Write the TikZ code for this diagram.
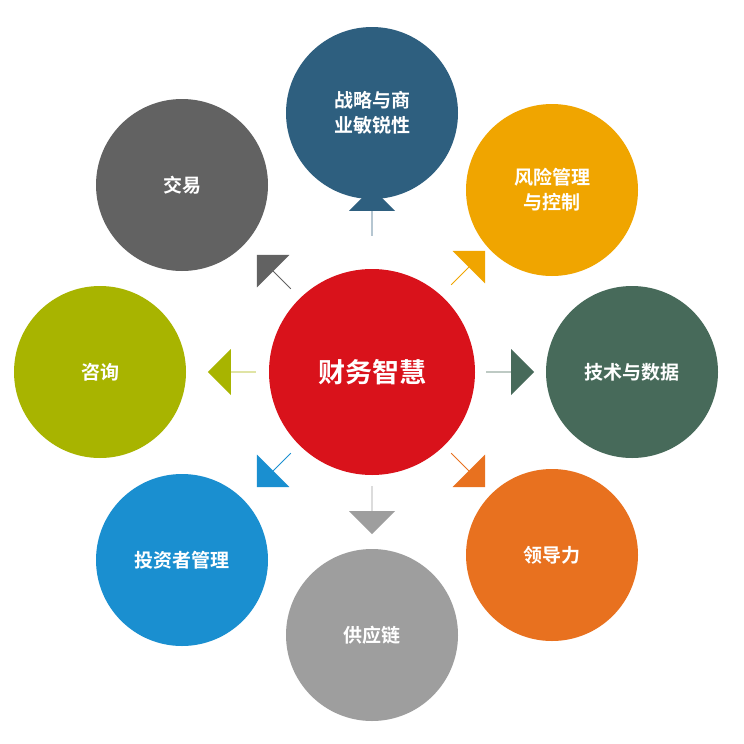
\documentclass[tikz,border=0pt]{standalone}
\usepackage{fontspec}
\newfontfamily\cjk{Noto Sans CJK SC}[BoldFont={Noto Sans CJK SC Bold}]
\usetikzlibrary{shapes.arrows}
\definecolor{cRed}{HTML}{D9121B}
\definecolor{cBlue}{HTML}{2E5F7F}
\definecolor{cAmber}{HTML}{F0A500}
\definecolor{cGreen}{HTML}{476A5A}
\definecolor{cOrange}{HTML}{E8711F}
\definecolor{cGrey}{HTML}{9E9E9E}
\definecolor{cSky}{HTML}{1A8FD0}
\definecolor{cLime}{HTML}{A8B400}
\definecolor{cDark}{HTML}{626262}
\tikzset{
  topic/.style={circle, fill=#1, minimum size=172pt, inner sep=0pt, align=center,
    text=white, font=\cjk\bfseries\fontsize{19}{25}\selectfont},
  blockarrow/.style={single arrow, fill=#1, minimum height=48pt, minimum width=46pt,
    single arrow head extend=11pt, inner sep=0pt}
}
\begin{document}
\begin{tikzpicture}[x=1pt,y=-1pt]
\fill[white] (0,0) rectangle (744,744);

% Centre
\node[topic=cRed, minimum size=206pt, font=\cjk\bfseries\fontsize{27}{32}\selectfont] (hub) at (372,372) {财务智慧};

% Outer circles
\node[topic=cBlue]   (strategy) at (372,113) {战略与商\\业敏锐性};
\node[topic=cAmber]  (risk)     at (552,190) {风险管理\\与控制};
\node[topic=cGreen]  (tech)     at (632,372) {技术与数据};
\node[topic=cOrange] (lead)     at (552,555) {领导力};
\node[topic=cGrey]   (supply)   at (372,635) {供应链};
\node[topic=cSky]    (investor) at (182,560) {投资者管理};
\node[topic=cLime]   (consult)  at (100,372) {咨询};
\node[topic=cDark]   (deal)     at (182,185) {交易};

% Arrows
\node[blockarrow=cBlue,   rotate=90]   (arStrategy) at (372,212) {};
\node[blockarrow=cAmber,  rotate=45]   (arRisk)     at (468,268) {};
\node[blockarrow=cGreen,  rotate=0]    (arTech)     at (510,372) {};
\node[blockarrow=cOrange, rotate=-45]  (arLead)     at (468,470) {};
\node[blockarrow=cGrey,   rotate=-90]  (arSupply)   at (372,510) {};
\node[blockarrow=cSky,    rotate=-135] (arInvestor) at (274,470) {};
\node[blockarrow=cLime,   rotate=180]  (arConsult)  at (232,372) {};
\node[blockarrow=cDark,   rotate=135]  (arDeal)     at (274,272) {};
\end{tikzpicture}
\end{document}
